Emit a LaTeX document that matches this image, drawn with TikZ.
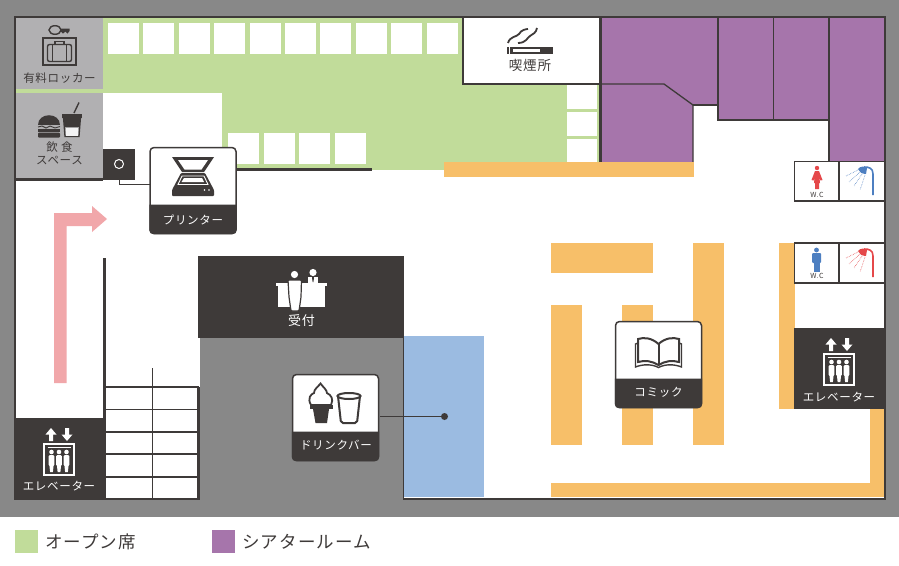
\documentclass[tikz,border=0pt]{standalone}
\usepackage{fontspec}
\usepackage{xcolor}
\usepackage{tikz}
\usetikzlibrary{positioning}
\setmainfont[LetterSpace=6]{Noto Sans CJK JP}
\definecolor{wall}{HTML}{3E3A39}
\definecolor{outside}{HTML}{888888}
\definecolor{panel}{HTML}{B1B0B2}
\definecolor{openseat}{HTML}{C1DC9A}
\definecolor{theater}{HTML}{A675AB}
\definecolor{shelf}{HTML}{F7BF69}
\definecolor{drinkarea}{HTML}{9BBBE1}
\definecolor{route}{HTML}{F1A7AA}
\definecolor{mensblue}{HTML}{4D7FC1}
\definecolor{ladyred}{HTML}{E5484A}
% cards: left, top
\newcommand{\infocard}[2]{
  \draw [wall,fill=white,line width=1.5pt,rounded corners=4pt] (#1,#2) rectangle ++(86,86);
  \fill [wall,rounded corners=4pt] (#1-.7,#2+70) -- (#1-.7,#2+86.7) -- (#1+86.7,#2+86.7) -- (#1+86.7,#2+70) [sharp corners] -- (#1+86.7,#2+57) -- (#1-.7,#2+57) -- cycle;
}
% elevator sign, drawn for the lower left one
\newcommand{\elevatorsign}{
  \fill [white] (51,428) -- (56.5,434.5) -- (53,434.5) -- (53,441) -- (49,441) -- (49,434.5) -- (45.5,434.5) -- cycle;
  \fill [white] (67,441) -- (72.5,434.5) -- (69,434.5) -- (69,428) -- (65,428) -- (65,434.5) -- (61.5,434.5) -- cycle;
  \draw [white,line width=2pt] (44,444) rectangle (74,475);
  \draw [white,line width=.7pt] (47.5,447.5) -- (70.5,447.5);
  \foreach \px in {51.5,59,66.5} {
    \fill [white] (\px,452) circle (2.3);
    \fill [white,rounded corners=1.2pt] (\px-2.9,455) rectangle (\px+2.9,466);
    \fill [white] (\px-2.2,464) -- (\px+2.2,464) -- (\px+1.4,472) -- (\px-1.4,472) -- cycle;
  }
}
% shower and stall, upper one
\newcommand{\showerhead}[1]{
  \draw [#1,line width=1.6pt] (873,195) -- (873,174) .. controls (873,168) and (869,167) .. (864,167);
  \fill [#1] (858,169) .. controls (860,166) and (865,166) .. (867,168) -- (866,174) .. controls (862,174) and (859,172) .. (858,169) -- cycle;
  \draw [#1,line width=.6pt,densely dotted] (858,170) -- (846,176);
  \draw [#1,line width=.6pt,densely dotted] (860,172) -- (849,182);
  \draw [#1,line width=.6pt,densely dotted] (862,174) -- (854,186);
  \draw [#1,line width=.6pt,densely dotted] (865,175) -- (860,190);
}
\begin{document}
\begin{tikzpicture}[x=1pt,y=-1pt,
  roomlabel/.style={text=wall,font=\fontsize{11.5}{13}\selectfont,inner sep=0pt,align=center},
  cardlabel/.style={text=white,font=\fontsize{11.5}{13}\selectfont,inner sep=0pt},
  legendlabel/.style={text=wall,font=\fontsize{17.5}{19}\selectfont,inner sep=0pt},
  swatch/.style={minimum width=23pt,minimum height=23pt,inner sep=0pt},
  tile/.style={fill=white},
  wallline/.style={wall,line width=1.3pt},
  thickwall/.style={wall,line width=3pt},
  leader/.style={wall,line width=.8pt}]
\useasboundingbox (0,0) rectangle (899,565);
% ground
\fill [outside] (0,0) rectangle (899,517);
\fill [white] (15,17) rectangle (885,499);
% open seats
\fill [openseat] (103,18) rectangle (463,93);
\fill [openseat] (16,89) rectangle (103,93);
\fill [openseat] (222,84) rectangle (599,170);
\foreach \tx in {108,143.4,178.8,214.2,249.6,285,320.4,355.8,391.2,426.6}
  \fill [tile] (\tx,23) rectangle ++(31,31);
\foreach \tx in {228,263.5,299,334.5}
  \fill [tile] (\tx,133) rectangle ++(31,31);
\fill [tile] (567,85) rectangle (597,109);
\fill [tile] (567,112) rectangle (597,136);
\fill [tile] (567,138.5) rectangle (597,163);
% theater rooms
\fill [theater] (602,18) -- (718,18) -- (718,105) -- (693,105) -- (664,84) -- (602,84) -- cycle;
\fill [theater] (602,84) -- (664,84) -- (693,105) -- (693,162) -- (602,162) -- cycle;
\fill [theater] (718,18) rectangle (829,120);
\fill [theater] (829,18) rectangle (884,161);
\draw [wallline] (601,84) -- (664,84) -- (693,105) -- (693,162);
\draw [wallline] (693,105) -- (718,105);
\draw [wallline] (718,18) -- (718,120) -- (829,120);
\draw [wallline] (773.5,18) -- (773.5,120);
\draw [wallline] (829,18) -- (829,161);
\draw [thickwall] (600.5,17) -- (600.5,163);
% smoking room
\draw [wallline,fill=white] (463,17) rectangle (600,84);
\fill [wall] (507,47) rectangle (553,53.5);
\fill [white] (509,47) rectangle (510,53.5);
\fill [white] (513,48.5) rectangle (540,52);
\draw [wall,line width=1.8pt] (508,43) .. controls (510,36) and (517,37) .. (519,34) .. controls (521,30) and (526,29) .. (528,29);
\draw [wall,line width=1.8pt] (518,43) .. controls (526,43) and (527,38) .. (530,36) .. controls (533,34) and (536,33) .. (537,28);
\node (smokinglabel) [roomlabel,font=\fontsize{13.5}{15}\selectfont] at (530,65) {喫煙所};
% shelves
\fill [shelf] (444,162) rectangle (694,177);
\fill [shelf] (551,243) rectangle (653,273);
\fill [shelf] (551,305) rectangle (582,445);
\fill [shelf] (622,305) rectangle (653,445);
\fill [shelf] (693,243) rectangle (724,445);
\fill [shelf] (779,243) rectangle (795,409);
\fill [shelf] (870,409) rectangle (884,497);
\fill [shelf] (551,483) rectangle (884,497);
% locker and food panels
\fill [panel] (16,18) rectangle (103,89);
\fill [panel] (16,93) rectangle (103,178);
\draw [wall,line width=1.4pt] (55,30) ellipse (6 and 4.3);
\fill [wall] (60,28.5) -- (69.5,28.5) -- (69.5,31) -- (67.5,33.5) -- (65.5,31.5) -- (63,33.5) -- (61,31.5) -- (60,31.5) -- cycle;
\draw [wall,line width=2pt] (43,37.5) rectangle (76,64.5);
\draw [wall,line width=1.4pt,rounded corners=2pt] (47.5,44.5) rectangle (71.5,61.5);
\draw [wall,line width=1.4pt] (55,44) -- (55,41.5) -- (64,41.5) -- (64,44);
\draw [wall,line width=1.1pt] (52.5,44.5) -- (52.5,61.5) (66.5,44.5) -- (66.5,61.5);
\node (lockerlabel) [roomlabel] at (59.5,78.5) {有料ロッカー};
\fill [wall] (38,125) .. controls (38,112) and (60,112) .. (60,125) -- cycle;
\draw [wall,line width=.9pt] (38,127) -- (42,126) -- (46,128) -- (50,126) -- (55,128) -- (60,126.5);
\fill [wall] (38,129) rectangle (60,131.5);
\fill [wall,rounded corners=1pt] (38,132.5) rectangle (60,137.5);
\fill [wall] (62,113.5) rectangle (81.5,117.5);
\draw [wall,line width=1.3pt,fill=panel] (63.5,117) -- (65,136.5) -- (79,136.5) -- (80.5,117) -- cycle;
\fill [wall] (63.5,117) -- (64.3,127) -- (79.7,127) -- (80.5,117) -- cycle;
\fill [white!85!panel] (66,128) rectangle (78,135.5);
\draw [wall,line width=1.4pt] (74,113) -- (79,102.5);
\node (foodlabel) [roomlabel] at (59.5,153.5) {飲 食\\スペース};
% inner walls
\draw [thickwall] (14,179) -- (103,179);
\draw [thickwall] (236,169.5) -- (372,169.5);
\fill [wall] (103,149) rectangle (135,180);
\draw [thickwall] (104.5,258) -- (104.5,499);
% stairs
\draw [wallline] (152.5,368) -- (152.5,499);
\foreach \sy in {387,409.5,432,454,477}
  \draw [wallline] (106,\sy) -- (199,\sy);
\draw [thickwall] (198.5,387) -- (198.5,500);
% lower left elevator
\fill [wall] (14,418) rectangle (106,500);
\elevatorsign
\node (leftliftlabel) [cardlabel] at (59,486) {エレベーター};
% route arrow
\fill [route] (54,383) -- (54,213) -- (92,213) -- (92,206) -- (107,219) -- (92,232) -- (92,226) -- (66.5,226) -- (66.5,383) -- cycle;
% reception and drink corner
\fill [outside] (200,338) rectangle (403,517);
\fill [wall] (198,255.5) rectangle (404,338);
\fill [drinkarea] (404,336) rectangle (484,497);
\draw [wallline] (403.5,338) -- (403.5,499.5);
\fill [white] (276,283) rectangle (327,286);
\fill [white] (278,286) rectangle (324.5,307);
\fill [white] (313,272.5) circle (3.6);
\fill [white] (308,284) -- (308,277) -- (318,277) -- (318,284) -- cycle;
\fill [wall] (312,277) -- (314,277) -- (313.6,281) -- (313,282.5) -- (312.4,281) -- cycle;
\draw [wall,line width=1.2pt,fill=white,rounded corners=1pt] (288,280) -- (301.5,280) -- (301,297) -- (299,311) -- (291,311) -- (289,297) -- cycle;
\fill [white] (294.5,274.5) circle (3.6);
\node (receptionlabel) [cardlabel,font=\fontsize{13}{15}\selectfont] at (301.5,320.5) {受付};
% lower right of floor
\fill [wall] (794,328) rectangle (884,409);
\begin{scope}[shift={(780,-90)}]
\elevatorsign
\end{scope}
\node (rightliftlabel) [cardlabel] at (839,397) {エレベーター};
\draw [wallline,fill=white] (794.5,161.5) rectangle (839,201);
\draw [wallline,fill=white] (839,161.5) rectangle (884.5,201);
\draw [wallline,fill=white] (794.5,243) rectangle (839,283);
\draw [wallline,fill=white] (839,243) rectangle (884.5,283);
% wc signs
\fill [ladyred] (817,168) circle (2.2);
\fill [ladyred] (815,171) -- (819,171) -- (822.5,180) -- (820.5,180.5) -- (819.5,178) -- (820,183) -- (819,183) -- (819,189) -- (815,189) -- (815,183) -- (814,183) -- (814.5,178) -- (813.5,180.5) -- (811.5,180) -- cycle;
\node (ladieswc) [text=wall,font=\fontsize{7}{8}\selectfont,inner sep=0pt] at (817,194.5) {W.C};
\fill [mensblue] (816.5,250) circle (2.4);
\fill [mensblue,rounded corners=1pt] (812,253) rectangle (821,263);
\fill [mensblue] (813.5,262) rectangle (819.5,271.5);
\node (menswc) [text=wall,font=\fontsize{7}{8}\selectfont,inner sep=0pt] at (817,276) {W.C};
\showerhead{mensblue}
\begin{scope}[shift={(0,82)}]
\showerhead{ladyred}
\end{scope}
% outer wall
\draw [wall,line width=2pt] (15,499) -- (15,17) -- (885,17) -- (885,499) -- (403,499);
\draw [wall,line width=2pt] (14,499) -- (199,499);
% printer
\node (printerdot) [circle,draw=white,fill=wall,line width=1pt,minimum size=9pt,inner sep=0pt] at (119,164) {};
\infocard{150}{147.5}
\fill [wall] (172,157) -- (214,157) -- (204,172) -- (182,172) -- cycle;
\fill [white] (178,160) -- (208,160) -- (201.5,169.5) -- (184.5,169.5) -- cycle;
\fill [wall,rounded corners=1pt] (181,173) -- (205,173) -- (214,190) -- (214,196) -- (172,196) -- (172,190) -- cycle;
\draw [white,line width=.9pt] (182,176) -- (204,176) -- (208,184.5) -- (178,184.5) -- cycle;
\fill [white] (184,178) -- (202,178) -- (204,182) -- (181.5,182) -- cycle;
\fill [white] (204.5,190) circle (.9) (209,190) circle (.9);
\node (printerlabel) [cardlabel] at (193,219.5) {プリンター};
\draw [leader] (printerdot) -- (119,184.5) -- (149.5,184.5);
% drink bar
\node (drinkdot) [circle,fill=wall,minimum size=7pt,inner sep=0pt] at (444.5,416.5) {};
\infocard{292.5}{374.5}
\draw [wall,line width=1.8pt,fill=white] (311,405) .. controls (307,398) and (311,394) .. (314,393) .. controls (314,389) and (318,387) .. (320.5,383.5) .. controls (323,387) and (327,390) .. (327,393) .. controls (331,395) and (334,399) .. (331,405) -- cycle;
\fill [wall] (309.5,405) rectangle (333,409);
\fill [wall] (313,409) -- (329,409) -- (327,423) -- (315.5,423) -- cycle;
\draw [wall,line width=2pt,rounded corners=2pt] (338,396) -- (341,423) -- (357,423) -- (360,396);
\draw [wall,line width=2pt] (349,396) ellipse (11.5 and 3);
\node (drinklabel) [cardlabel] at (336,445) {ドリンクバー};
\draw [leader] (drinkdot) -- (379.5,416.5);
% comic
\infocard{615.5}{321.5}
\draw [wall,line width=2pt,fill=white] (658.5,344) .. controls (652,338) and (644,337) .. (638,339) -- (638,362) .. controls (645,360) and (652,361) .. (658.5,365) .. controls (665,361) and (672,360) .. (679,362) -- (679,339) .. controls (673,337) and (665,338) .. (658.5,344) -- cycle;
\draw [wall,line width=2pt] (658.5,344) -- (658.5,365);
\draw [wall,line width=1.4pt] (638,343) -- (635.5,344) -- (635.5,367) .. controls (643,364) and (652,364) .. (658.5,367.5) .. controls (665,364) and (674,364) .. (681.5,367) -- (681.5,344) -- (679,343);
\node (comiclabel) [cardlabel] at (658.5,392.5) {コミック};
% legend
\node (openswatch) [swatch,fill=openseat] at (26.5,541.5) {};
\node (openlabel) [legendlabel,right=7pt of openswatch] {オープン席};
\node (theaterswatch) [swatch,fill=theater] at (223.5,541.5) {};
\node (theaterlabel) [legendlabel,right=7pt of theaterswatch] {シアタールーム};
\end{tikzpicture}
\end{document}
